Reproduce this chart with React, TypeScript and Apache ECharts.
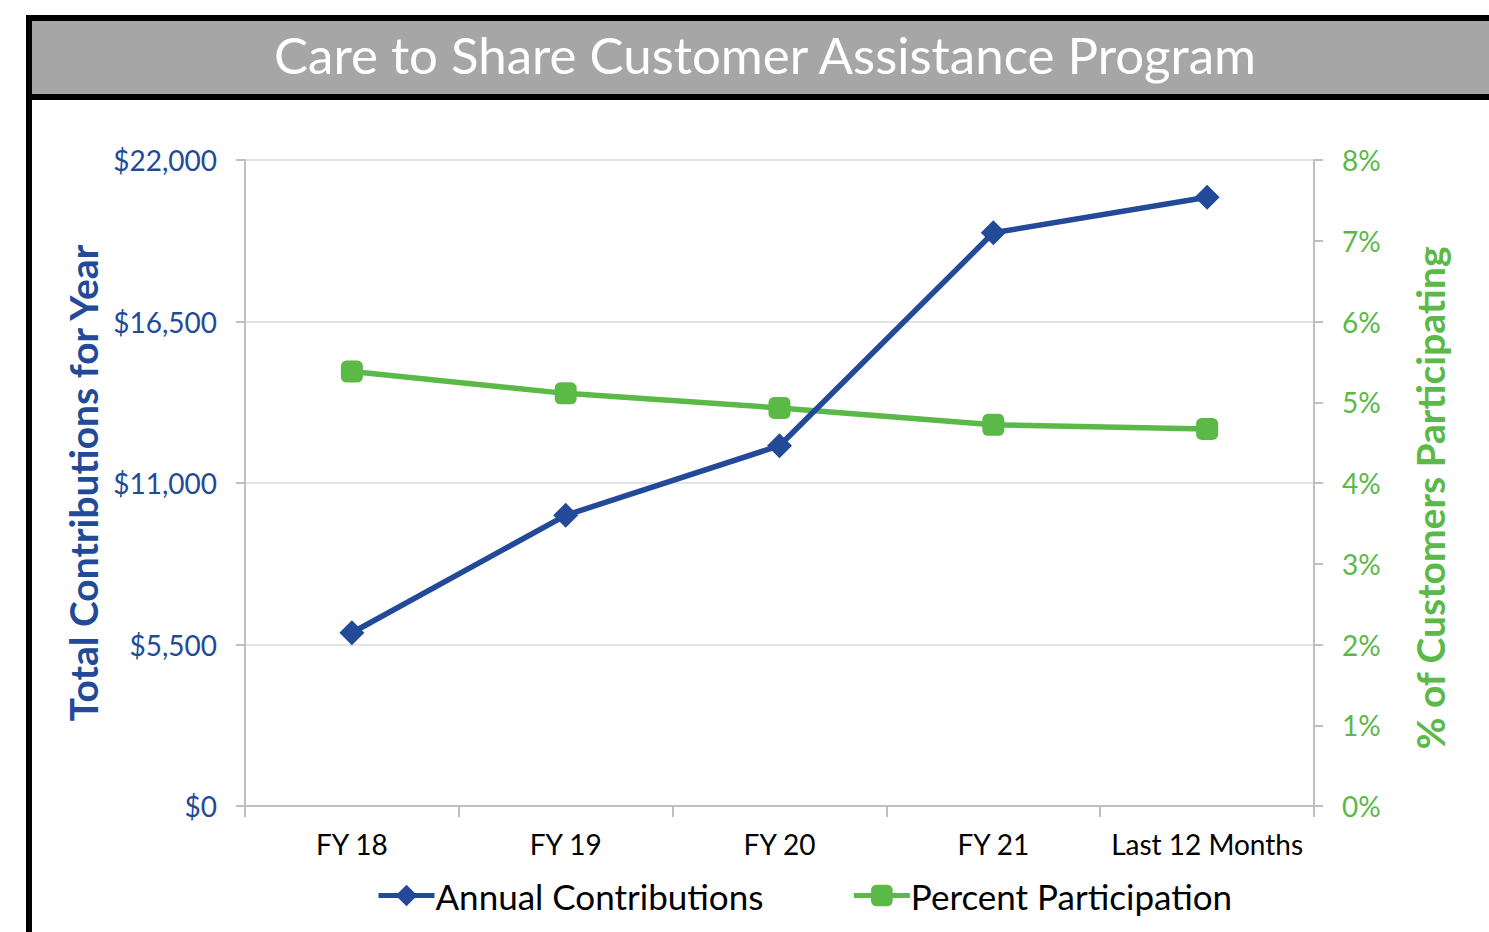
import React, { useEffect, useRef } from "react";
import * as echarts from "echarts";

const categories = ["FY 18", "FY 19", "FY 20", "FY 21", "Last 12 Months"];
const annualContributions = [5900, 9900, 12270, 19520, 20730];
const percentParticipation = [5.38, 5.11, 4.93, 4.72, 4.67];
const titleText = "Care to Share Customer Assistance Program";
const leftAxisTitle = "Total Contributions for Year";
const rightAxisTitle = "% of Customers Participating";

const BLUE = "#224A99";
const GREEN = "#5BB947";
const FONT = "Lato, 'Open Sans', sans-serif";

export default function App() {
  const ref = useRef<HTMLDivElement>(null);
  useEffect(() => {
    if (!ref.current) return;
    const chart = echarts.init(ref.current, undefined, { renderer: "svg" });
    chart.setOption({
      animation: false,
      backgroundColor: "#ffffff",
      textStyle: { fontFamily: FONT },
      graphic: [
        { type: "rect", z: -10, shape: { x: 26, y: 15, width: 1500, height: 1000 }, style: { fill: "#000000" } },
        { type: "rect", z: -9, shape: { x: 32, y: 21, width: 1500, height: 73 }, style: { fill: "#A6A6A6" } },
        { type: "rect", z: -9, shape: { x: 32, y: 100, width: 1500, height: 1000 }, style: { fill: "#ffffff" } },
        {
          type: "text",
          z: 10,
          x: 765,
          y: 54,
          style: {
            text: titleText,
            fill: "#ffffff",
            font: `51px ${FONT}`,
            textAlign: "center",
            textVerticalAlign: "middle",
          },
        },
      ],
      grid: { left: 245, right: 175, top: 160, bottom: 126, containLabel: false },
      legend: {
        left: 371,
        top: 873,
        itemGap: 88,
        itemWidth: 56,
        itemHeight: 27,
        lineStyle: { width: 5 },
        textStyle: { fontSize: 35, color: "#000000", fontFamily: FONT, padding: [0, 0, 0, -4] },
        data: ["Annual Contributions", "Percent Participation"],
      },
      xAxis: {
        type: "category",
        data: categories,
        boundaryGap: true,
        axisLine: { show: true, lineStyle: { color: "#BFBFBF", width: 2 } },
        axisTick: { show: true, interval: 0, length: 11, lineStyle: { color: "#BFBFBF", width: 2 } },
        axisLabel: { interval: 0, color: "#000000", fontSize: 28, margin: 24, fontFamily: FONT },
        splitLine: { show: false },
      },
      yAxis: [
        {
          type: "value",
          min: 0,
          max: 22000,
          interval: 5500,
          name: leftAxisTitle,
          nameLocation: "middle",
          nameRotate: 90,
          nameGap: 140,
          nameTextStyle: { color: BLUE, fontSize: 39, fontWeight: "bold", fontFamily: FONT },
          axisLine: { show: true, lineStyle: { color: "#BFBFBF", width: 2 } },
          axisTick: { show: true, length: 9, lineStyle: { color: "#BFBFBF", width: 2 } },
          axisLabel: {
            color: BLUE,
            fontSize: 28,
            margin: 28,
            fontFamily: FONT,
            formatter: (v: number) => "$" + v.toLocaleString("en-US"),
          },
          splitLine: { show: true, lineStyle: { color: "#E3E3E3", width: 2 } },
        },
        {
          type: "value",
          min: 0,
          max: 8,
          interval: 1,
          position: "right",
          name: rightAxisTitle,
          nameLocation: "middle",
          nameRotate: 90,
          nameGap: 96,
          nameTextStyle: {
            color: GREEN,
            fontSize: 39,
            fontWeight: "bold",
            fontFamily: FONT,
            padding: [0, 30, 0, 0],
          },
          axisLine: { show: true, lineStyle: { color: "#BFBFBF", width: 2 } },
          axisTick: { show: true, length: 9, lineStyle: { color: "#BFBFBF", width: 2 } },
          axisLabel: {
            color: GREEN,
            fontSize: 28,
            margin: 28,
            fontFamily: FONT,
            formatter: (v: number) => v + "%",
          },
          splitLine: { show: false },
        },
      ],
      series: [
        {
          name: "Annual Contributions",
          type: "line",
          yAxisIndex: 0,
          data: annualContributions,
          symbol: "diamond",
          symbolSize: 25,
          lineStyle: { color: BLUE, width: 5.5 },
          itemStyle: { color: BLUE },
          z: 3,
        },
        {
          name: "Percent Participation",
          type: "line",
          yAxisIndex: 1,
          data: percentParticipation,
          symbol: "roundRect",
          symbolSize: 22,
          lineStyle: { color: GREEN, width: 5.5 },
          itemStyle: { color: GREEN },
          z: 2,
        },
      ],
    });
    return () => chart.dispose();
  }, []);
  return (
    <div
      ref={ref}
      style={{ position: "absolute", left: 0, top: 0, width: 1489, height: 932 }}
    />
  );
}
